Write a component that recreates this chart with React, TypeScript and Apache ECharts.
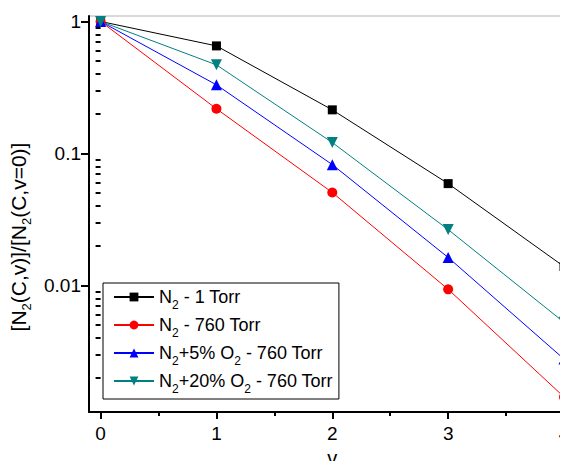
import React, { useEffect, useRef } from "react";
import * as echarts from "echarts";

const xValues = [0, 1, 2, 3, 4];
const n2_1Torr = [1.0, 0.653, 0.214, 0.0591, 0.0139];
const n2_760Torr = [1.0, 0.218, 0.0506, 0.00935, 0.00143];
const n2o2_5 = [1.0, 0.331, 0.0823, 0.0163, 0.00277];
const n2o2_20 = [1.0, 0.469, 0.121, 0.0265, 0.00526];

const seriesNames = ["N2 - 1 Torr", "N2 - 760 Torr", "N2+5% O2 - 760 Torr", "N2+20% O2 - 760 Torr"];
const legendRich: Record<string, string> = {
  "N2 - 1 Torr": "{a|N}{s|2}{a| - 1 Torr}",
  "N2 - 760 Torr": "{a|N}{s|2}{a| - 760 Torr}",
  "N2+5% O2 - 760 Torr": "{a|N}{s|2}{a|+5% O}{s|2}{a| - 760 Torr}",
  "N2+20% O2 - 760 Torr": "{a|N}{s|2}{a|+20% O}{s|2}{a| - 760 Torr}",
};
const yAxisTitle = "{a|[N}{s|2}{a|(C,v)]/[N}{s|2}{a|(C,v=0)]}";
const xAxisTitle = "v";

const xMajorTicks = [0, 1, 2, 3, 4];
const xMinorTicks = [0.5, 1.5, 2.5, 3.5];
const yMajorTicks = [0.01, 0.1, 1];
const yMinorTicks = [
  0.002, 0.003, 0.004, 0.005, 0.006, 0.007, 0.008, 0.009,
  0.02, 0.03, 0.04, 0.05, 0.06, 0.07, 0.08, 0.09,
  0.2, 0.3, 0.4, 0.5, 0.6, 0.7, 0.8, 0.9,
];

const FONT = '"Liberation Sans", Arial, sans-serif';
const legendTextRich = {
  a: { fontFamily: FONT, fontSize: 18, color: "#000", lineHeight: 22, verticalAlign: "middle" },
  s: { fontFamily: FONT, fontSize: 12, color: "#000", lineHeight: 22, verticalAlign: "top", padding: [13, 0, 0, 0] },
};
const titleRich = {
  a: { fontFamily: FONT, fontSize: 21, color: "#000", lineHeight: 26, verticalAlign: "middle" },
  s: { fontFamily: FONT, fontSize: 13, color: "#000", lineHeight: 26, verticalAlign: "top", padding: [15, 0, 0, 0] },
};

export default function App() {
  const ref = useRef<HTMLDivElement>(null);
  useEffect(() => {
    if (!ref.current) return;
    const chart = echarts.init(ref.current, null, { renderer: "svg" });
    const mk = (name: string, data: number[], color: string, symbol: string, size: number, rotate = 0) => ({
      name,
      type: "line",
      data: xValues.map((x, i) => [x, data[i]]),
      xAxisIndex: 0,
      yAxisIndex: 0,
      symbol,
      symbolSize: size,
      symbolRotate: rotate,
      showSymbol: true,
      lineStyle: { color, width: 1 },
      itemStyle: { color },
      z: 3,
    });
    chart.setOption({
      animation: false,
      backgroundColor: "#fff",
      textStyle: { fontFamily: FONT },
      grid: {
        left: 89,
        top: 16,
        width: 486.6,
        height: 396,
        containLabel: false,
        outerBoundsMode: "none",
        show: true,
        borderColor: "#b4b4b4",
        borderWidth: 1,
        backgroundColor: "transparent",
      },
      legend: {
        orient: "vertical",
        left: 103,
        top: 283,
        padding: [3, 6, 4, 10],
        itemGap: 3,
        itemWidth: 40,
        itemHeight: 11,
        borderColor: "#000",
        borderWidth: 1,
        backgroundColor: "#fff",
        data: seriesNames,
        formatter: (name: string) => legendRich[name],
        textStyle: { rich: legendTextRich },
      },
      xAxis: [
        {
          type: "value",
          min: -0.1,
          max: 4.1,
          position: "bottom",
          name: xAxisTitle,
          nameLocation: "middle",
          nameGap: 36,
          nameTextStyle: { fontFamily: FONT, fontSize: 20, color: "#000" },
          axisLine: { show: true, onZero: false, lineStyle: { color: "#000", width: 2 } },
          axisTick: { show: true, customValues: xMajorTicks, length: 7, lineStyle: { color: "#000", width: 2 } },
          axisLabel: { customValues: xMajorTicks, margin: 12, fontFamily: FONT, fontSize: 19, color: "#000" },
          splitLine: { show: false },
        },
        {
          type: "value",
          min: -0.1,
          max: 4.1,
          position: "bottom",
          axisLine: { show: false },
          axisTick: { show: true, customValues: xMinorTicks, length: 4, lineStyle: { color: "#000", width: 2 } },
          axisLabel: { show: false },
          splitLine: { show: false },
        },
      ],
      yAxis: [
        {
          type: "log",
          logBase: 10,
          min: 0.0011,
          max: 1.1,
          position: "left",
          name: yAxisTitle,
          nameLocation: "middle",
          nameGap: 50,
          nameRotate: 90,
          nameTextStyle: { rich: titleRich, padding: [0, 46, 0, 0] },
          axisLine: { show: true, onZero: false, lineStyle: { color: "#000", width: 2 } },
          axisTick: { show: true, customValues: yMajorTicks, length: 8, lineStyle: { color: "#000", width: 2 } },
          axisLabel: {
            customValues: yMajorTicks,
            margin: 8,
            fontFamily: FONT,
            fontSize: 19,
            color: "#000",
            formatter: (v: number) => String(v),
          },
          splitLine: { show: false },
        },
        {
          type: "log",
          logBase: 10,
          min: 0.0011,
          max: 1.1,
          position: "left",
          axisLine: { show: false },
          axisTick: { show: true, customValues: yMinorTicks, length: 5, lineStyle: { color: "#000", width: 2 } },
          axisLabel: { show: false },
          splitLine: { show: false },
        },
      ],
      series: [
        mk(seriesNames[0], n2_1Torr, "#000000", "rect", 9),
        mk(seriesNames[1], n2_760Torr, "#ff0000", "circle", 10),
        mk(seriesNames[2], n2o2_5, "#0000ff", "triangle", 11),
        mk(seriesNames[3], n2o2_20, "#008080", "triangle", 11, 180),
      ],
    });
    return () => chart.dispose();
  }, []);
  return <div ref={ref} style={{ width: 568, height: 469, margin: -8 }} />;
}
